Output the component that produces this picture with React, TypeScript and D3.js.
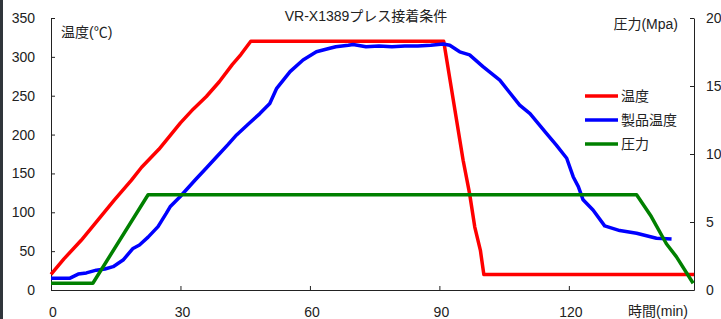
import React, { useEffect, useRef } from 'react';
import * as d3 from 'd3';

// 温度 (設定温度)
const tempTime = [0, 3, 7, 10, 14.7, 18.6, 21, 25, 30, 33, 36, 39, 42, 44, 46.3, 91, 95.5, 97, 98.2, 99.5, 100.3, 149];
const tempValue = [20, 40, 64, 84, 116, 141, 158, 181, 215, 233, 249, 268, 290, 303, 320, 320, 167, 124, 81, 51, 20, 20];

// 製品温度
const productTime = [0, 4.3, 6.3, 8.2, 10.5, 12.5, 14.4, 16.7, 19, 20.5, 22.5, 24.8, 26.7, 27.6, 29.9, 33.4, 36, 38.4, 41, 43, 46, 48.4, 50.7, 52.3, 55.4, 58.4, 61.5, 64.6, 66, 68.9, 70, 73, 76, 79, 82, 85, 88, 90.9, 92.4, 94.7, 97, 100.1, 104, 108.6, 111, 114.8, 117.1, 119.5, 121, 122.2, 123.3, 125.6, 128.3, 131.8, 135.7, 140.3, 143.8];
const productValue = [15, 15, 20.5, 22, 25.5, 27, 30, 38.5, 53.5, 58, 68, 81.5, 98.5, 107, 120, 141.5, 157, 171.5, 187, 199.5, 215, 227, 240, 259.5, 281, 296, 306.5, 311, 313, 315, 316, 313, 314, 313, 314, 314, 315, 316.5, 315, 306.5, 302.5, 287.5, 270, 238, 227, 201.5, 186.5, 169.5, 145.8, 133, 116, 103, 82.5, 76.5, 73, 66.5, 65.5];

// 圧力 (右軸)
const pressTime = [0, 9.7, 22.5, 135.7, 139.1, 142.6, 144.9, 148.8];
const pressValue = [0.5, 0.5, 7, 7, 5.4, 3.4, 2.45, 0.5];

const xTicks = [0, 30, 60, 90, 120];
const yLeftTicks = [0, 50, 100, 150, 200, 250, 300, 350];
const yRightTicks = [0, 5, 10, 15, 20];

const legendNames = ['温度', '製品温度', '圧力'];
const colors = ['#ff0000', '#0000ff', '#008000'];

const FONT = '"Liberation Sans", Arial, "Noto Sans CJK JP", sans-serif';

type Pt = { t: number; v: number };

export default function App() {
  const svgRef = useRef<SVGSVGElement>(null);

  useEffect(() => {
    if (!svgRef.current) return;
    const width = 721;
    const height = 319;
    const margin = { top: 18, right: 27, bottom: 29, left: 51 };

    const svg = d3.select(svgRef.current);
    svg.selectAll('*').remove();

    svg.append('rect').attr('width', width).attr('height', height).attr('fill', '#fff');
    svg.append('rect').attr('x', 0).attr('y', 0).attr('width', 3).attr('height', height).attr('fill', '#30353b');

    const x = d3.scaleLinear().domain([0, 149]).range([margin.left, width - margin.right]);
    const yL = d3.scaleLinear().domain([0, 350]).range([height - margin.bottom, margin.top]);
    const yR = d3.scaleLinear().domain([0, 20]).range([height - margin.bottom, margin.top]);

    const styleAxis = (g: d3.Selection<SVGGElement, unknown, null, undefined>) => {
      g.attr('font-family', FONT).attr('font-size', 14);
      g.selectAll('path, line').attr('stroke', '#222');
      g.selectAll('text').attr('fill', '#222');
    };

    svg.append('g')
      .attr('transform', `translate(${margin.left},0)`)
      .call(d3.axisLeft(yL).tickValues(yLeftTicks).tickSizeInner(-4).tickSizeOuter(0).tickPadding(16))
      .call(styleAxis);

    svg.append('g')
      .attr('transform', `translate(${width - margin.right},0)`)
      .call(d3.axisRight(yR).tickValues(yRightTicks).tickSizeInner(-4).tickSizeOuter(0).tickPadding(12))
      .call(styleAxis);

    const xAxis = svg.append('g')
      .attr('transform', `translate(0,${height - margin.bottom})`)
      .call(d3.axisBottom(x).tickValues(xTicks).tickSizeInner(-4).tickSizeOuter(0).tickPadding(17))
      .call(styleAxis);
    xAxis.selectAll('text').attr('dx', 1.5);

    const toPts = (ts: number[], vs: number[]): Pt[] => ts.map((t, i) => ({ t, v: vs[i] }));

    const lineL = d3.line<Pt>().x(d => x(d.t)).y(d => yL(d.v));
    const lineR = d3.line<Pt>().x(d => x(d.t)).y(d => yR(d.v));

    const series = [
      { pts: toPts(tempTime, tempValue), line: lineL, color: colors[0] },
      { pts: toPts(productTime, productValue), line: lineL, color: colors[1] },
      { pts: toPts(pressTime, pressValue), line: lineR, color: colors[2] },
    ];

    series.forEach(s => {
      svg.append('path')
        .datum(s.pts)
        .attr('fill', 'none')
        .attr('stroke', s.color)
        .attr('stroke-width', 3.5)
        .attr('stroke-linejoin', 'round')
        .attr('d', s.line);
    });

    // タイトルと軸ラベル
    const txt = (tx: number, ty: number, s: string, anchor = 'start') =>
      svg.append('text')
        .attr('x', tx).attr('y', ty)
        .attr('text-anchor', anchor)
        .attr('font-family', FONT)
        .attr('font-size', 14)
        .attr('fill', '#222')
        .text(s);

    txt(366, 21, 'VR-X1389プレス接着条件', 'middle');
    txt(61, 37, '温度(℃)');
    txt(678, 29, '圧力(Mpa)', 'end');
    txt(688, 316, '時間(min)', 'end');

    // 凡例
    legendNames.forEach((name, i) => {
      const ly = 96 + i * 24;
      svg.append('line')
        .attr('x1', 585).attr('x2', 618)
        .attr('y1', ly).attr('y2', ly)
        .attr('stroke', colors[i])
        .attr('stroke-width', 3.5);
      txt(621, ly + 5, name);
    });
  }, []);

  return (
    <svg
      ref={svgRef}
      width={721}
      height={319}
      style={{ position: 'absolute', left: 0, top: 0 }}
    />
  );
}
